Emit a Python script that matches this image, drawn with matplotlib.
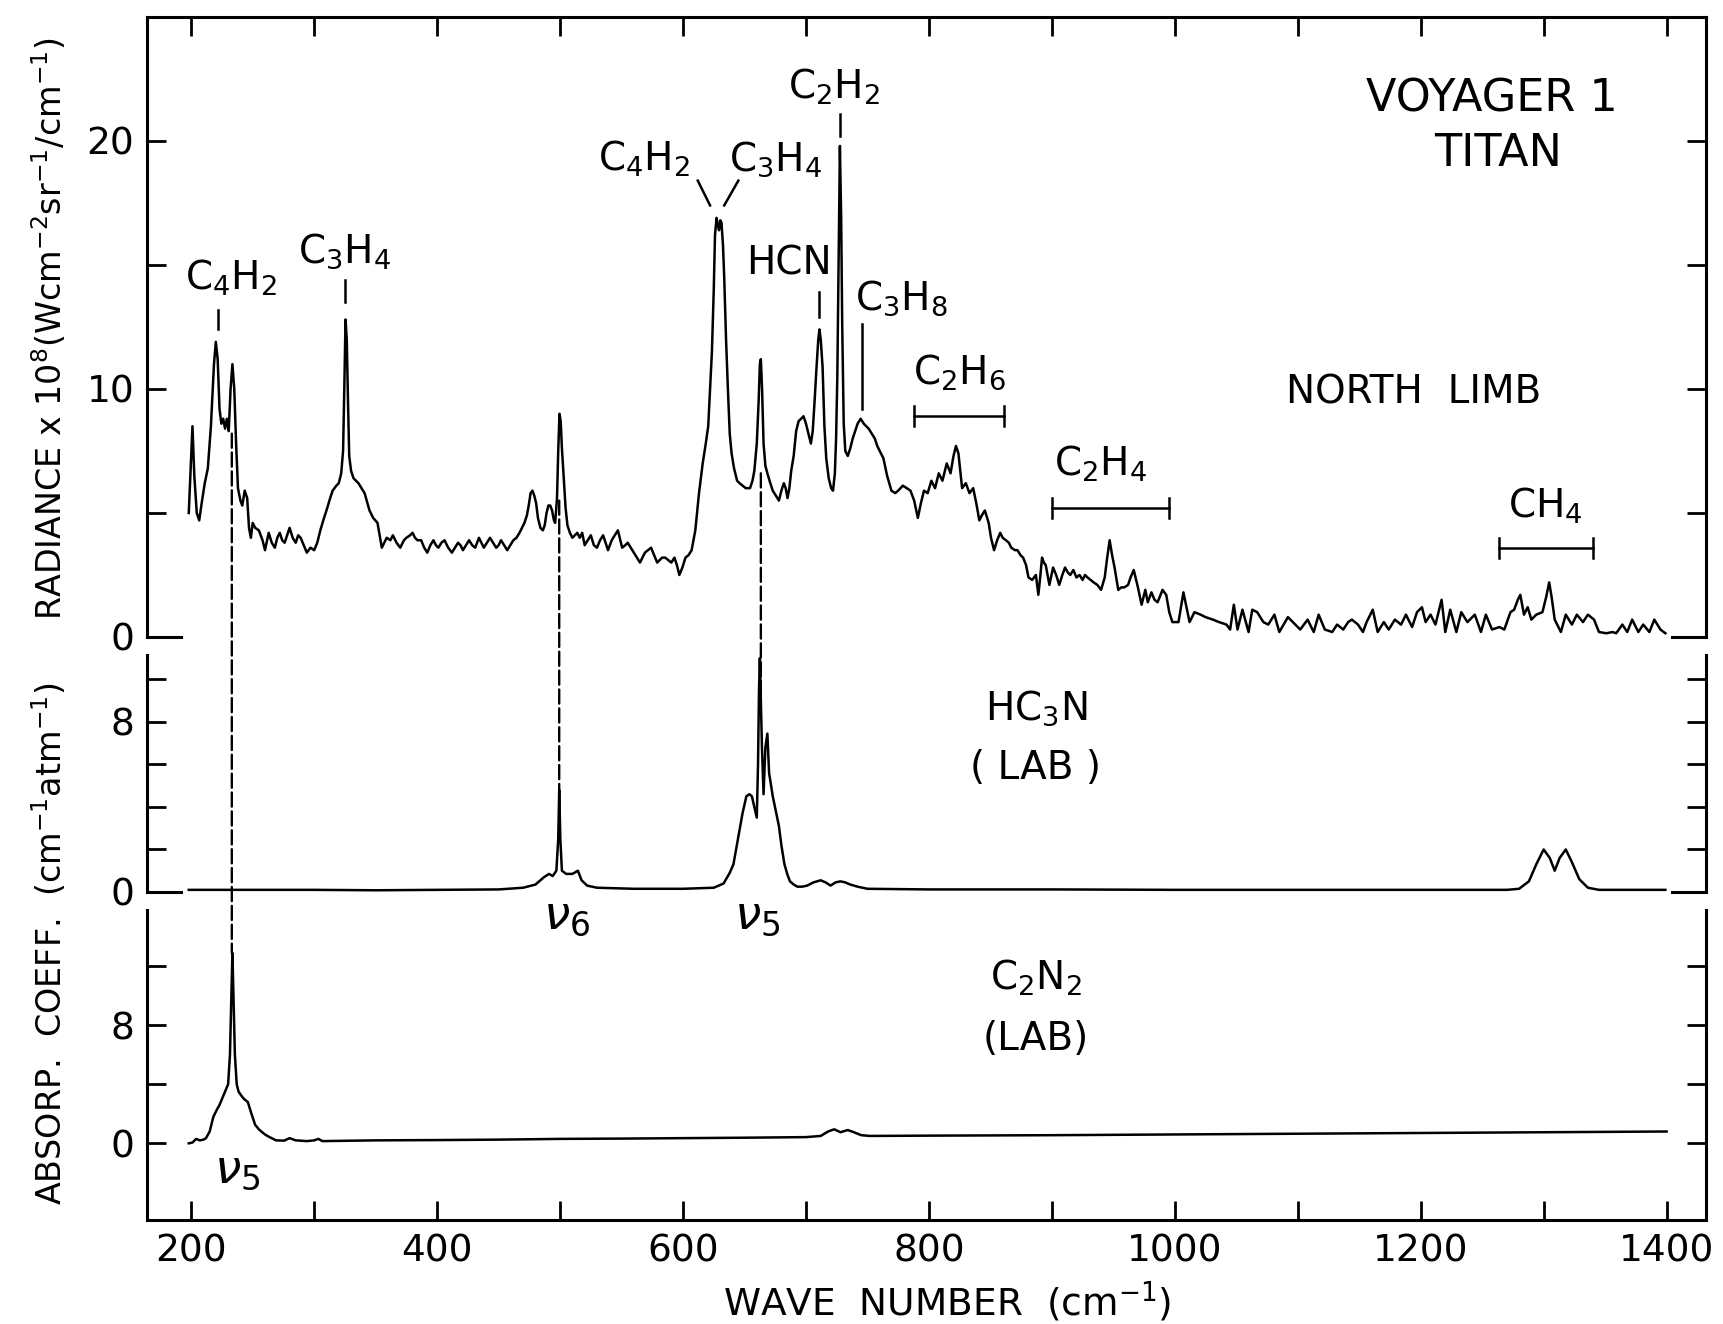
import matplotlib
matplotlib.use('Agg')
import matplotlib.pyplot as plt
from matplotlib.patches import ConnectionPatch
import numpy as np

plt.rcParams['font.family'] = ['DejaVu Sans']
plt.rcParams['mathtext.fontset'] = 'dejavusans'

# Voyager 1 IRIS north-limb radiance spectrum of Titan (wave number, radiance x 1e8)
north_limb = [
    (198, 5.0), (199.5, 6.8), (201, 8.5), (202.5, 6.5), (204.5, 5.0), (206.5, 4.7),
    (208.5, 5.4), (211, 6.2), (213.5, 6.8), (216, 8.5), (218.5, 11.0), (220, 11.9),
    (221.5, 11.2), (223, 9.2), (224.5, 8.6), (226, 8.8), (227.5, 8.4), (229, 8.8),
    (230.5, 8.3), (232, 10.0), (233.5, 11.0), (235, 10.0), (236.5, 7.8), (238, 6.0),
    (240, 5.5), (241.5, 5.3), (243.5, 5.9), (245.5, 5.6), (247, 4.4), (248.5, 4.0),
    (250, 4.6), (252, 4.4), (255, 4.3), (258, 3.9), (260, 3.5), (263, 4.2),
    (265.5, 3.8), (268, 3.6), (270, 4.0), (272, 4.2), (274, 3.9), (276, 3.8),
    (278, 4.1), (280, 4.4), (282.5, 4.0), (285, 3.8), (287, 4.1), (289, 4.0),
    (291.5, 3.7), (294, 3.4), (297, 3.6), (300, 3.5), (302.5, 3.8), (305, 4.3),
    (308, 4.8), (310, 5.1), (313, 5.6), (315, 5.9), (318, 6.1), (320, 6.2),
    (322, 6.6), (323.5, 7.5), (324.5, 10.0), (325.5, 12.8), (326.5, 12.0), (327.5, 9.5),
    (328.5, 7.3), (330, 6.7), (332, 6.4), (336, 6.2), (341, 5.8), (345, 5.1),
    (348, 4.8), (351.5, 4.6), (355, 3.6), (357, 3.8), (359, 4.0), (362, 3.9),
    (364, 4.1), (367, 3.8), (370, 3.6), (373, 3.9), (375, 4.0), (378, 4.1),
    (380, 4.2), (382, 4.0), (384, 3.9), (387, 3.9), (389.5, 3.6), (392, 3.4),
    (394.5, 3.7), (397, 3.9), (399, 3.7), (401, 3.6), (403.5, 3.8), (406, 3.9),
    (409, 3.6), (412, 3.4), (414.5, 3.6), (417, 3.8), (419, 3.7), (421, 3.5),
    (423.5, 3.7), (426, 3.9), (428.5, 3.7), (431, 3.6), (434, 4.0), (436, 3.8),
    (438, 3.6), (440.5, 3.8), (443, 4.0), (445.5, 3.8), (448, 3.6), (450, 3.7),
    (452, 3.9), (454.5, 3.7), (457, 3.5), (459.5, 3.7), (462, 3.9), (464.5, 4.0),
    (467, 4.2), (469, 4.4), (471, 4.6), (473, 4.9), (474.5, 5.3), (476, 5.8),
    (477.5, 5.9), (479, 5.7), (480.5, 5.4), (482, 4.8), (484, 4.4), (486, 4.3),
    (487.5, 4.5), (489, 5.0), (490.5, 5.3), (492, 5.3), (493.5, 5.1), (495, 4.7),
    (496, 4.6), (497.5, 5.6), (498.5, 7.5), (499.5, 9.0), (500.5, 8.7), (501.5, 7.6),
    (503, 6.4), (504.5, 5.2), (506, 4.5), (508, 4.2), (510, 4.0), (512, 4.1),
    (514, 4.2), (516, 4.0), (518, 4.2), (520, 3.7), (522.5, 3.9), (525, 4.1),
    (527.5, 3.7), (530, 3.6), (532.5, 3.9), (535, 4.1), (537, 3.8), (539, 3.5),
    (540.5, 3.7), (542, 3.9), (544.5, 4.1), (547, 4.3), (549, 3.9), (550.5, 3.6),
    (553, 3.7), (555, 3.8), (557.5, 3.6), (560, 3.4), (562.5, 3.2), (565, 3.0),
    (567, 3.2), (569, 3.4), (571.5, 3.5), (574, 3.6), (576.5, 3.3), (579, 3.0),
    (581, 3.1), (583, 3.2), (585.5, 3.2), (588, 3.1), (590.5, 3.0), (593, 3.2),
    (595, 2.9), (597, 2.5), (599.5, 2.8), (602, 3.2), (604.5, 3.3), (607, 3.5),
    (610, 4.3), (613, 5.8), (616, 7.0), (618.5, 7.8), (620.5, 8.5), (622, 10.0),
    (623.5, 11.5), (625, 14.0), (626, 16.2), (627.3, 16.9), (628.3, 16.6), (629.3, 16.4),
    (630.3, 16.8), (631.3, 16.7), (632.5, 15.8), (633.5, 14.5), (635, 12.0), (636.5, 10.0),
    (638, 8.2), (639.5, 7.4), (641.5, 6.8), (644, 6.3), (646, 6.2), (648.5, 6.1),
    (651, 6.0), (654.5, 6.0), (656.5, 6.3), (658, 6.7), (660, 7.8), (661.5, 9.5),
    (662.5, 11.0), (663.3, 11.2), (664.3, 10.0), (665.5, 7.8), (667, 6.9), (668.6, 6.6),
    (671, 6.2), (673, 5.9), (675.5, 5.7), (678, 5.5), (680, 5.9), (682, 6.2),
    (683.5, 6.0), (685, 5.6), (686.5, 6.0), (688, 6.7), (690, 7.3), (692, 8.3),
    (694, 8.7), (696, 8.8), (698, 8.9), (700, 8.6), (702, 8.2), (704, 7.8),
    (705.5, 8.3), (707, 9.5), (708.5, 10.8), (710, 12.0), (711, 12.4), (712, 12.0),
    (713.5, 10.9), (715, 8.5), (716.5, 7.2), (718.5, 6.4), (720.5, 6.0), (722, 5.9),
    (723.5, 6.6), (724.5, 8.0), (725.5, 10.5), (726.5, 15.0), (727.6, 19.8), (728.6, 17.0),
    (729.5, 12.5), (730.7, 8.6), (732, 7.5), (734, 7.3), (736, 7.6), (738, 8.0),
    (740, 8.3), (742, 8.6), (744.5, 8.8), (747, 8.6), (749, 8.5), (751, 8.4),
    (753.5, 8.2), (756, 8.0), (758, 7.7), (760, 7.5), (763, 7.2), (766, 6.5),
    (769.5, 5.9), (772.6, 5.8), (775, 5.9), (778.8, 6.1), (782, 6.0), (785, 5.9),
    (788, 5.5), (791, 4.8), (793.5, 5.4), (796, 5.9), (799, 5.8), (802, 6.3),
    (805, 6.0), (808, 6.6), (811, 6.3), (814.5, 7.0), (817.6, 6.6), (820, 7.3),
    (822, 7.7), (824, 7.4), (827, 6.0), (830, 6.2), (833, 5.8), (836, 6.0),
    (838.5, 5.4), (841, 4.7), (843, 4.9), (845.5, 5.1), (848.6, 4.6), (850.5, 4.0),
    (853, 3.5), (855.5, 3.9), (858, 4.2), (860, 4.0), (862.6, 3.9), (865, 3.8),
    (867, 3.6), (870, 3.5), (872, 3.5), (874.5, 3.3), (876.6, 3.2), (879, 2.9),
    (881, 2.4), (884, 2.3), (887, 2.5), (889, 1.7), (890.5, 2.4), (892, 3.2),
    (893.5, 3.0), (895, 2.9), (898, 2.1), (901, 2.8), (903.5, 2.5), (906, 2.1),
    (908.5, 2.5), (910.7, 2.8), (913, 2.6), (915, 2.5), (917.5, 2.7), (920, 2.4),
    (922.5, 2.5), (925, 2.3), (927, 2.5), (929, 2.4), (931.5, 2.3), (934, 2.2),
    (937, 2.1), (940, 1.9), (943, 2.4), (945, 3.2), (947, 3.9), (949, 3.3),
    (951, 2.8), (954, 1.9), (956.5, 2.0), (959, 2.0), (962, 2.1), (964, 2.4),
    (966.6, 2.7), (968.5, 2.3), (970, 2.0), (973, 1.3), (976, 1.9), (978, 1.4),
    (981, 1.8), (983.5, 1.5), (986, 1.4), (990, 1.9), (993, 1.7), (995.5, 1.0),
    (998, 0.6), (1003, 0.6), (1005, 1.2), (1007, 1.8), (1009.5, 1.2), (1012, 0.6),
    (1016, 1.0), (1021, 0.9), (1025, 0.8), (1031, 0.7), (1036, 0.6), (1042, 0.5),
    (1045, 0.3), (1048, 1.3), (1051, 0.3), (1055, 1.1), (1060, 0.2), (1063, 1.1),
    (1067, 1.0), (1072, 0.6), (1076, 0.5), (1081, 0.9), (1085, 0.2), (1092, 0.8),
    (1098, 0.5), (1102, 0.3), (1108, 0.7), (1113, 0.2), (1117, 0.9), (1122, 0.3),
    (1128, 0.2), (1132, 0.5), (1137, 0.3), (1141, 0.6), (1144, 0.7), (1149, 0.5),
    (1153, 0.2), (1156, 0.6), (1161, 1.1), (1165, 0.2), (1170, 0.6), (1174, 0.3),
    (1179, 0.7), (1184, 0.5), (1188, 0.9), (1193, 0.4), (1197, 1.0), (1201, 1.2),
    (1204, 0.6), (1208, 0.9), (1212, 0.5), (1217, 1.5), (1220, 0.2), (1224, 1.1),
    (1229, 0.2), (1233, 1.0), (1238, 0.6), (1244, 0.9), (1249, 0.2), (1253, 0.9),
    (1258, 0.3), (1264, 0.4), (1268, 0.3), (1273, 1.0), (1276, 1.1), (1279, 1.5),
    (1281, 1.7), (1284, 0.9), (1287, 1.2), (1290, 0.7), (1294, 0.9), (1299, 1.0),
    (1302, 1.6), (1304.5, 2.2), (1306.5, 1.6), (1309, 0.7), (1314, 0.2), (1318, 0.9),
    (1323, 0.5), (1327, 0.9), (1332, 0.6), (1336, 0.9), (1341, 0.7), (1345, 0.2),
    (1351, 0.15), (1356, 0.2), (1359, 0.15), (1364, 0.5), (1368, 0.2), (1372, 0.7),
    (1377, 0.2), (1381, 0.5), (1386, 0.2), (1390, 0.7), (1395, 0.3), (1399, 0.15),
]

# HC3N laboratory absorption coefficient
hc3n_lab = [
    (198, 0.1), (250, 0.1), (300, 0.1), (350, 0.08), (400, 0.1), (450, 0.12),
    (470, 0.2), (480, 0.35), (487, 0.7), (491, 0.85), (494, 0.75), (497, 1.0),
    (498.5, 2.5), (499.3, 4.8), (500.2, 2.5), (501.5, 1.0), (505, 0.85), (510, 0.85),
    (514.5, 1.0), (517.5, 0.55), (522, 0.3), (530, 0.2), (560, 0.15), (600, 0.15),
    (625, 0.2), (633, 0.4), (638, 0.9), (641, 1.3), (645, 2.6), (648.4, 3.7),
    (651.5, 4.5), (654, 4.6), (656, 4.5), (658, 4.0), (660, 3.5), (661, 6.0),
    (661.8, 9.5), (662.5, 11.0), (663.3, 9.0), (664.2, 6.8), (665.5, 4.6), (667, 6.8),
    (668.6, 7.45), (670, 5.6), (673, 4.5), (675.5, 3.8), (678, 3.1), (680, 2.2),
    (682.5, 1.3), (685, 0.8), (687, 0.5), (690, 0.35), (693, 0.25), (697, 0.25),
    (701, 0.3), (706, 0.45), (712, 0.55), (716, 0.45), (720, 0.3), (724, 0.45),
    (728, 0.5), (732, 0.45), (736, 0.35), (742, 0.25), (750, 0.15), (800, 0.12),
    (900, 0.12), (1000, 0.1), (1100, 0.1), (1200, 0.1), (1270, 0.1), (1280, 0.15),
    (1288, 0.5), (1294, 1.3), (1300, 2.0), (1305, 1.6), (1309, 1.0), (1313, 1.6),
    (1318, 2.0), (1323, 1.4), (1329, 0.6), (1336, 0.2), (1345, 0.1), (1399, 0.1),
]

# C2N2 laboratory absorption coefficient
c2n2_lab = [
    (198, 0.0), (201, 0.05), (204, 0.3), (207, 0.2), (210, 0.25), (212, 0.35),
    (215, 0.8), (218, 1.8), (221, 2.3), (223, 2.6), (227, 3.4), (230, 4.0),
    (231.5, 6.0), (232.5, 9.5), (233.5, 12.9), (234.5, 9.5), (235.5, 6.0), (237, 4.0),
    (238.5, 3.5), (241, 3.2), (243, 3.0), (246, 2.8), (249, 2.0), (252, 1.25),
    (255, 0.95), (257, 0.8), (260, 0.6), (263, 0.45), (269, 0.2), (275.5, 0.18),
    (280, 0.35), (285, 0.2), (294, 0.15), (300, 0.2), (303.5, 0.3), (306.6, 0.15),
    (350, 0.2), (400, 0.22), (450, 0.25), (500, 0.3), (550, 0.32), (600, 0.35),
    (650, 0.38), (700, 0.42), (712, 0.5), (718, 0.8), (723, 0.95), (728, 0.75),
    (734, 0.9), (739, 0.75), (745, 0.55), (752, 0.5), (800, 0.52), (900, 0.55),
    (1000, 0.6), (1100, 0.65), (1200, 0.7), (1300, 0.75), (1400, 0.8),
]

# molecule labels on the radiance panel: (text, wave number, baseline)
top_labels = [
    ('C$_4$H$_2$', 232, 14.0), ('C$_3$H$_4$', 325, 15.1),
    ('C$_4$H$_2$', 568, 18.8), ('C$_3$H$_4$', 675, 18.8),
    ('C$_2$H$_2$', 723, 21.7), ('HCN', 686, 14.6),
    ('C$_3$H$_8$', 778, 13.2), ('C$_2$H$_6$', 825, 10.2),
    ('C$_2$H$_4$', 940, 6.5), ('CH$_4$', 1301, 4.8),
]
# short marker lines under labels: (x0, y0, x1, y1)
label_ticks = [
    (222, 12.4, 222, 13.2), (325, 13.5, 325, 14.4),
    (612, 18.4, 622, 17.4), (645, 18.4, 633.5, 17.4),
    (711, 12.9, 711, 13.9), (728, 20.2, 728, 21.1),
    (745.6, 9.2, 745.6, 12.6),
]
# band ranges: (start, end, level)
bands = [(787.5, 861, 8.9), (900, 995, 5.2), (1264, 1340, 3.6)]

XLIM = (164, 1432)
LW = 1.8

fig = plt.figure(figsize=(17.23, 13.24), dpi=100)
L, W = 0.0853, 0.9048
ax_top = fig.add_axes([L, 0.5189, W, 0.4683])
ax_mid = fig.add_axes([L, 0.3263, W, 0.1790])
ax_bot = fig.add_axes([L, 0.0785, W, 0.2341])

for ax in (ax_top, ax_mid, ax_bot):
    ax.set_xlim(*XLIM)
    ax.patch.set_visible(False)
    for s in ax.spines.values():
        s.set_linewidth(2.2)
    ax.tick_params(direction='in', length=14, width=2, labelsize=27, pad=9,
                   left=True, right=True, labelright=False)
ax_mid.set_zorder(3)

# radiance panel
wn, rad = np.array(north_limb).T
ax_top.plot(wn, rad, color='k', lw=LW)
ax_top.set_ylim(0, 25)
ax_top.set_yticks([0, 5, 10, 15, 20])
ax_top.set_yticklabels(['0', '', '10', '', '20'])
ax_top.set_xticks(np.arange(200, 1401, 100))
ax_top.tick_params(axis='x', top=True, bottom=False, labelbottom=False)
ax_top.spines['bottom'].set_visible(False)

for txt, x, y in top_labels:
    ax_top.text(x, y, txt, fontsize=28, ha='center', va='baseline')
for x0, y0, x1, y1 in label_ticks:
    ax_top.plot([x0, x1], [y0, y1], color='k', lw=1.8)
for x0, x1, y in bands:
    ax_top.plot([x0, x1], [y, y], color='k', lw=1.8)
    ax_top.plot([x0, x0], [y - 0.4, y + 0.4], color='k', lw=1.8)
    ax_top.plot([x1, x1], [y - 0.4, y + 0.4], color='k', lw=1.8)

ax_top.text(1194, 9.4, 'NORTH  LIMB', fontsize=28, ha='center', va='baseline')
ax_top.text(1258, 21.2, 'VOYAGER 1', fontsize=32, ha='center', va='baseline')
ax_top.text(1263, 19.0, 'TITAN', fontsize=32, ha='center', va='baseline')

# HC3N panel
wn, k = np.array(hc3n_lab).T
ax_mid.plot(wn, k, color='k', lw=LW, clip_on=False)
ax_mid.set_ylim(0, 11.15)
ax_mid.set_yticks([0, 2, 4, 6, 8, 10])
ax_mid.set_yticklabels(['0', '', '', '', '8', ''])
ax_mid.tick_params(axis='x', bottom=False, top=False, labelbottom=False)
ax_mid.spines['top'].set_visible(False)
ax_mid.spines['bottom'].set_visible(False)
ax_mid.text(887, 8.1, 'HC$_3$N', fontsize=28, ha='center', va='baseline')
ax_mid.text(887, 5.3, '( LAB )', fontsize=28, ha='center', va='baseline')
ax_mid.text(505, -1.15, r'$\nu_6$', fontsize=34, ha='center', va='center', clip_on=False)
ax_mid.text(660, -1.15, r'$\nu_5$', fontsize=34, ha='center', va='center', clip_on=False)

# C2N2 panel
wn, k = np.array(c2n2_lab).T
ax_bot.plot(wn, k, color='k', lw=LW)
ax_bot.set_ylim(-5.2, 15.8)
ax_bot.set_yticks([0, 4, 8, 12])
ax_bot.set_yticklabels(['0', '', '8', ''])
ax_bot.set_xticks(np.arange(200, 1401, 100))
ax_bot.set_xticklabels([str(v) if v % 200 == 0 else '' for v in range(200, 1401, 100)])
ax_bot.tick_params(axis='x', pad=10)
ax_bot.spines['top'].set_visible(False)
ax_bot.text(887, 10.4, 'C$_2$N$_2$', fontsize=28, ha='center', va='baseline')
ax_bot.text(887, 6.3, '(LAB)', fontsize=28, ha='center', va='baseline')
ax_bot.text(237, -1.8, r'$\nu_5$', fontsize=34, ha='center', va='center')

# zero stubs where the panels are broken apart
for ax in (ax_top, ax_mid):
    tr = ax.get_yaxis_transform()
    ax.plot([0, 0.022], [0, 0], transform=tr, color='k', lw=2.2, clip_on=False)
    ax.plot([0.978, 1], [0, 0], transform=tr, color='k', lw=2.2, clip_on=False)

# dashed lines tying the Titan features to the lab bands
def dashed_link(x, ax_a, y_a, ax_b, y_b):
    con = ConnectionPatch(xyA=(x, y_a), coordsA='data', axesA=ax_a,
                          xyB=(x, y_b), coordsB='data', axesB=ax_b,
                          color='k', lw=1.7, linestyle=(0, (6, 2)))
    fig.add_artist(con)

dashed_link(233, ax_top, 8.2, ax_bot, 12.9)
dashed_link(499.3, ax_top, 5.5, ax_mid, 4.8)
dashed_link(663.3, ax_top, 6.6, ax_mid, 9.0)

fig.text(0.029, 0.752, r'RADIANCE x 10$^8$(Wcm$^{-2}$sr$^{-1}$/cm$^{-1}$)',
         rotation=90, ha='center', va='center', fontsize=24)
fig.text(0.029, 0.287, r'ABSORP.  COEFF.  (cm$^{-1}$atm$^{-1}$)',
         rotation=90, ha='center', va='center', fontsize=24)
fig.text(0.55, 0.0166, r'WAVE  NUMBER  (cm$^{-1}$)', ha='center', va='center', fontsize=27)

fig.savefig('out.png', dpi=100)
